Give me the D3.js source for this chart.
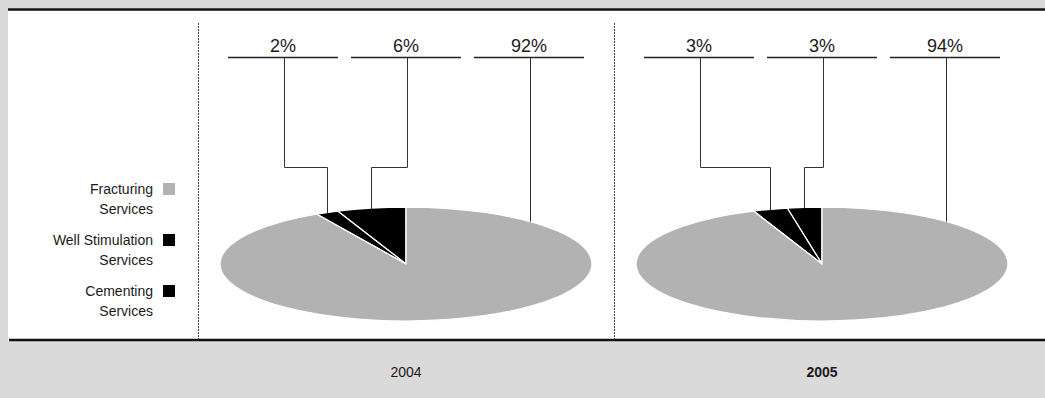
<!DOCTYPE html>
<html>
<head>
<meta charset="utf-8">
<script src="https://cdn.jsdelivr.net/npm/d3@7"></script>
<style>
  html, body { margin: 0; padding: 0; background: #ffffff; }
  svg { display: block; }
  text { font-family: "Liberation Sans", Arial, sans-serif; fill: #1a1a1a; }
</style>
</head>
<body>
<svg id="chart" width="1045" height="398"></svg>
<script>
// ---- data ----
const categories = ["Cementing Services", "Well Stimulation Services", "Fracturing Services"];
const years = ["2004", "2005"];
const values2004 = [2, 6, 92];
const values2005 = [3, 3, 94];
const pieOrder = ["Well Stimulation Services", "Cementing Services", "Fracturing Services"];
const legendOrder = ["Fracturing Services", "Well Stimulation Services", "Cementing Services"];
const colors = ["#000000", "#000000", "#b2b2b2"];
const yearBold = [false, true];

const W = 1045, H = 398;
const svg = d3.select("#chart");

const color = d3.scaleOrdinal(categories, colors);
const yearScale = d3.scaleBand(years, [198, 1030]);
const seriesByYear = { "2004": values2004, "2005": values2005 };

// background strips
const bg = "#dadada";
svg.append("rect").attr("x", 0).attr("y", 0).attr("width", W).attr("height", 8).attr("fill", bg);
svg.append("rect").attr("x", 0).attr("y", 0).attr("width", 8).attr("height", H).attr("fill", bg);
svg.append("rect").attr("x", 0).attr("y", 341).attr("width", W).attr("height", H - 341).attr("fill", bg);
svg.append("line").attr("x1", 8).attr("x2", W).attr("y1", 9.5).attr("y2", 9.5)
  .attr("stroke", "#111").attr("stroke-width", 2.5);
svg.append("line").attr("x1", 9).attr("x2", W).attr("y1", 340).attr("y2", 340)
  .attr("stroke", "#111").attr("stroke-width", 2.5);

// dividers
years.forEach(y => {
  svg.append("line").attr("x1", yearScale(y) + 0.5).attr("x2", yearScale(y) + 0.5)
    .attr("y1", 23).attr("y2", 339)
    .attr("stroke", "#444").attr("stroke-width", 1).attr("stroke-dasharray", "2,1");
});

// legend
const legendRow = d3.scaleLinear([0, 1], [194, 245]);
const lg = svg.append("g");
legendOrder.forEach((name, i) => {
  const y0 = legendRow(i);
  const cut = name.lastIndexOf(" ");
  const t = lg.append("text").attr("text-anchor", "end").attr("font-size", 14);
  t.append("tspan").attr("x", 153).attr("y", y0).text(name.slice(0, cut));
  t.append("tspan").attr("x", 153).attr("y", y0 + 20).text(name.slice(cut + 1));
  lg.append("rect").attr("x", 163).attr("y", y0 - 11).attr("width", 12).attr("height", 12)
    .attr("fill", color(name));
});

// pies
const rx = 186, ry = 57, cy = 264;
const labelY = 52, underY = 57.5, elbowY = 167.5;
const pie = d3.pie().sort(null).value(d => d.value).startAngle(0).endAngle(-2 * Math.PI);
const arc = d3.arc().innerRadius(0).outerRadius(rx);
const margin = 4 * Math.PI / 180;

years.forEach((yr, yi) => {
  const cx = yearScale(yr) + yearScale.bandwidth() / 2;
  const vals = seriesByYear[yr];
  const data = pieOrder.map(c => ({ cat: c, value: vals[categories.indexOf(c)] }));
  const arcs = pie(data);

  const g = svg.append("g").attr("transform", `translate(${cx},${cy}) scale(1,${ry / rx})`);
  g.selectAll("path").data(arcs).join("path")
    .attr("d", arc)
    .attr("fill", d => color(d.data.cat))
    .attr("stroke", "#ffffff")
    .attr("stroke-width", 1.3)
    .attr("vector-effect", "non-scaling-stroke");

  // labels
  const lx = d3.scalePoint(categories, [cx - 123, cx + 123]);
  const rim = a => [cx + rx * Math.sin(a), cy - ry * Math.cos(a)];
  arcs.forEach(d => {
    const xc = lx(d.data.cat);
    const x = Math.round(xc) + 1.5;
    svg.append("text").attr("x", xc).attr("y", labelY).attr("text-anchor", "middle")
      .attr("font-size", 18).text(d.data.value + "%");
    svg.append("line").attr("x1", xc - 55).attr("x2", xc + 55).attr("y1", underY).attr("y2", underY)
      .attr("stroke", "#222").attr("stroke-width", 1.3);

    // does a straight drop from the label land well inside this slice?
    const a = Math.asin(Math.max(-1, Math.min(1, (x - cx) / rx)));
    const lo = Math.min(d.startAngle, d.endAngle) + margin, hi = Math.max(d.startAngle, d.endAngle) - margin;
    const hits = [a, a - 2 * Math.PI, a + 2 * Math.PI].some(v => v > lo && v < hi);
    let path;
    if (hits) {
      const yy = cy - ry * Math.cos(a);
      path = `M${x},${underY}V${yy}`;
    } else {
      const [px, py] = rim((d.startAngle + d.endAngle) / 2);
      const pxr = Math.round(px) + 0.5;
      path = `M${x},${underY}V${elbowY}H${pxr}V${py + 1}`;
    }
    svg.append("path").attr("d", path).attr("fill", "none")
      .attr("stroke", "#333").attr("stroke-width", 1);
  });

  svg.append("text").attr("x", cx).attr("y", 377).attr("text-anchor", "middle")
    .attr("font-size", 14).attr("font-weight", yearBold[yi] ? "bold" : "normal").text(yr);
});
</script>
</body>
</html>
